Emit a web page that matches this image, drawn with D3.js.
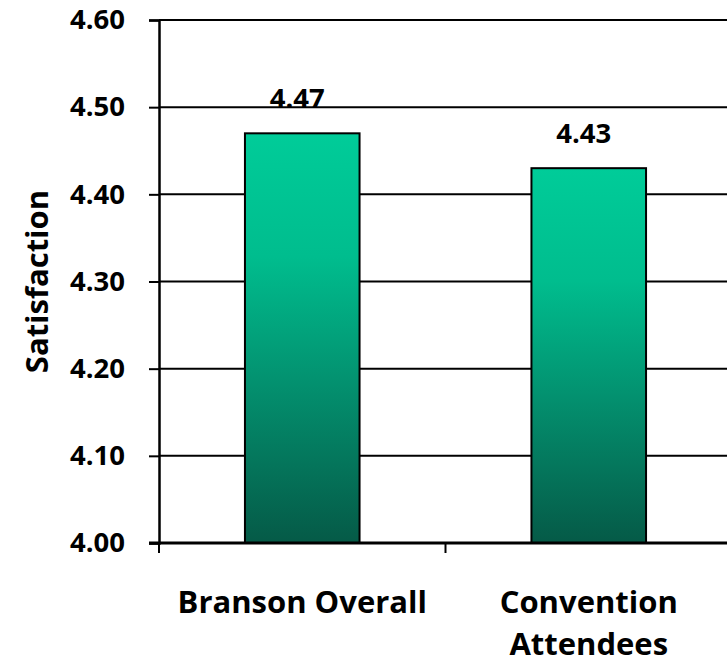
<!DOCTYPE html>
<html>
<head>
<meta charset="utf-8">
<script src="https://cdn.jsdelivr.net/npm/d3@7"></script>
<style>
  html, body { margin: 0; padding: 0; background: #fff; }
  svg { display: block; font-family: "Open Sans", sans-serif; font-weight: bold; }
</style>
</head>
<body>
<svg id="chart" width="727" height="665"></svg>
<script>
// Satisfaction scores by group
const categories = [["Branson Overall"], ["Convention", "Attendees"]];
const values = [4.47, 4.43];
const valueLabels = ["4.47", "4.43"];
const yTicks = [4.0, 4.1, 4.2, 4.3, 4.4, 4.5, 4.6];
const yTickLabels = ["4.00", "4.10", "4.20", "4.30", "4.40", "4.50", "4.60"];

const svg = d3.select("#chart");
const margin = { left: 159, top: 20, bottom: 122 };
const plotW = 573;
const plotH = 665 - margin.top - margin.bottom;

const x = d3.scaleBand()
  .domain(d3.range(categories.length))
  .range([margin.left, margin.left + plotW])
  .paddingInner(0.6)
  .paddingOuter(0.3);

const y = d3.scaleLinear()
  .domain([4.0, 4.6])
  .range([margin.top + plotH, margin.top]);

// bar fill: bright teal fading to deep green
const defs = svg.append("defs");
const grad = defs.append("linearGradient")
  .attr("id", "barGrad")
  .attr("x1", 0).attr("y1", 0).attr("x2", 0).attr("y2", 1);
[["0%", "#00cc99"], ["30%", "#00bd8e"], ["60%", "#039270"], ["100%", "#055a47"]]
  .forEach(([o, c]) => grad.append("stop").attr("offset", o).attr("stop-color", c));

// horizontal gridlines
svg.append("g")
  .selectAll("line")
  .data(yTicks.slice(1))
  .join("line")
  .attr("x1", margin.left)
  .attr("x2", 727)
  .attr("y1", d => y(d))
  .attr("y2", d => y(d))
  .attr("stroke", "#000")
  .attr("stroke-width", 2);

// bars
svg.append("g")
  .selectAll("rect")
  .data(values)
  .join("rect")
  .attr("x", (d, i) => x(i))
  .attr("width", x.bandwidth())
  .attr("y", d => y(d))
  .attr("height", d => y(4.0) - y(d))
  .attr("fill", "url(#barGrad)")
  .attr("stroke", "#000")
  .attr("stroke-width", 2);

// value labels above bars
svg.append("g")
  .selectAll("text")
  .data(values)
  .join("text")
  .attr("x", (d, i) => x(i) + x.bandwidth() / 2 - 5)
  .attr("y", d => y(d) - 25)
  .attr("text-anchor", "middle")
  .attr("font-size", 27.5)
  .attr("fill", "#000")
  .text((d, i) => valueLabels[i]);

// y axis
const yAxis = d3.axisLeft(y)
  .tickValues(yTicks)
  .tickFormat((d, i) => yTickLabels[i])
  .tickSize(10)
  .tickPadding(24);
const gy = svg.append("g")
  .attr("transform", `translate(${margin.left},0)`)
  .call(yAxis);
gy.select(".domain").attr("stroke", "#000").attr("stroke-width", 2.5);
gy.selectAll(".tick line").attr("stroke", "#000").attr("stroke-width", 2);
gy.selectAll(".tick text")
  .attr("font-size", 27.5)
  .attr("font-family", "'Open Sans', sans-serif")
  .attr("font-weight", "bold")
  .attr("fill", "#000");

// x axis baseline and category separators
const xBase = y(4.0);
svg.append("line")
  .attr("x1", margin.left - 10).attr("x2", 727)
  .attr("y1", xBase).attr("y2", xBase)
  .attr("stroke", "#000").attr("stroke-width", 3);
const sepX = d3.range(categories.length).map(i => margin.left + i * plotW / categories.length);
svg.append("g")
  .selectAll("line")
  .data(sepX)
  .join("line")
  .attr("x1", d => d).attr("x2", d => d)
  .attr("y1", xBase).attr("y2", xBase + 10)
  .attr("stroke", "#000").attr("stroke-width", 2);

// category labels
const catG = svg.append("g")
  .selectAll("text")
  .data(categories)
  .join("text")
  .attr("x", (d, i) => x(i) + x.bandwidth() / 2)
  .attr("y", 613)
  .attr("text-anchor", "middle")
  .attr("font-size", 31)
  .attr("fill", "#000");
catG.selectAll("tspan")
  .data(d => d)
  .join("tspan")
  .attr("x", function () { return d3.select(this.parentNode).attr("x"); })
  .attr("dy", (d, i) => i === 0 ? 0 : 42)
  .text(d => d);

// y axis title
svg.append("text")
  .attr("transform", `translate(48,${(y(4.0) + y(4.6)) / 2}) rotate(-90)`)
  .attr("text-anchor", "middle")
  .attr("font-size", 31)
  .attr("fill", "#000")
  .text("Satisfaction");
</script>
</body>
</html>
